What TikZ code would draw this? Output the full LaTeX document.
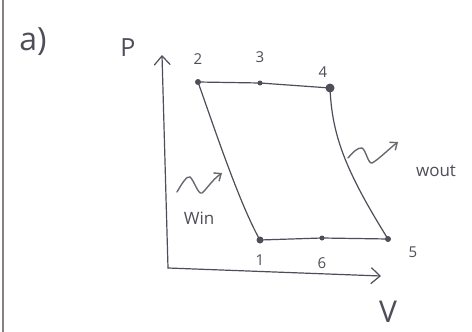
\documentclass[tikz,border=0pt]{standalone}
\usepackage{fontspec}
\setmainfont{Open Sans}
\usetikzlibrary{arrows.meta}
\definecolor{ink}{HTML}{4E4E58}
\definecolor{edge}{HTML}{8C7C84}
\begin{document}
\begin{tikzpicture}[x=1pt,y=-1pt,
  stroke/.style={draw=ink,line width=1.2pt,line cap=round,line join=round},
  axis/.style={stroke,-{Straight Barb[length=9pt,width=16pt,line width=1.2pt]}},
  dot/.style={circle,fill=ink,inner sep=0pt,minimum size=#1},
  lbl/.style={text=ink,inner sep=0pt,font=\fontsize{15}{15}\selectfont},
  big/.style={text=ink,inner sep=0pt,font=\fontsize{32}{32}\selectfont},
  squig/.style={draw=ink!85,line width=1.4pt,line cap=round,-{Straight Barb[length=6pt,width=10pt,line width=1.4pt]}}]
\useasboundingbox (0,0) rectangle (472,332);
\fill[white] (0,0) rectangle (472,332);
\draw[edge,line width=2pt] (3,0) -- (3,332);
% titles
\node[big] (a) at (33,42) {a)};
\node[big,font=\fontsize{25}{25}\selectfont] (P) at (128,48) {P};
\node[big,font=\fontsize{30}{30}\selectfont] (V) at (388,312) {V};
% axes
\coordinate (O) at (168,268);
\coordinate (yt) at (162,55);
\coordinate (xt) at (381,276);
\draw[axis] (O) -- (yt);
\draw[axis] (O) -- (xt);
% state points
\node[dot=6pt] (p2) at (198,82) {};
\node[dot=5pt] (p3) at (260,83) {};
\node[dot=9pt] (p4) at (330,88) {};
\node[dot=7pt] (p1) at (260,240) {};
\node[dot=5pt] (p6) at (322,238) {};
\node[dot=6pt] (p5) at (388,239) {};
\draw[stroke] (p2.center) -- (p3.center) -- (p4.center);
\draw[stroke] (p1.center) -- (p6.center) -- (p5.center);
\draw[stroke] (p2.center) .. controls (215,130) and (240,205) .. (p1.center);
\draw[stroke] (p4.center) .. controls (332,135) and (345,170) .. (p5.center);
% labels
\node[lbl] (l2) at (198,59) {2};
\node[lbl] (l3) at (260,57) {3};
\node[lbl] (l4) at (323,72) {4};
\node[lbl] (l1) at (260,260) {1};
\node[lbl] (l6) at (322,263) {6};
\node[lbl] (l5) at (413,252) {5};
% work arrows
\coordinate (wi0) at (177,192);
\coordinate (wi1) at (222,173);
\draw[squig] (wi0) .. controls (181,185) and (187,175) .. (190,177)
  .. controls (194,180) and (198,195) .. (202,193)
  .. controls (206,190) and (212,180) .. (wi1);
\node[lbl,font=\fontsize{17}{17}\selectfont] (win) at (199,218) {Win};
\coordinate (wo0) at (348,158);
\coordinate (wo1) at (398,142);
\draw[squig] (wo0) .. controls (352,153) and (358,147) .. (362,148)
  .. controls (366,150) and (368,164) .. (372,163)
  .. controls (378,160) and (390,148) .. (wo1);
\node[lbl,font=\fontsize{17}{17}\selectfont] (wout) at (436,171) {wout};
\end{tikzpicture}
\end{document}
